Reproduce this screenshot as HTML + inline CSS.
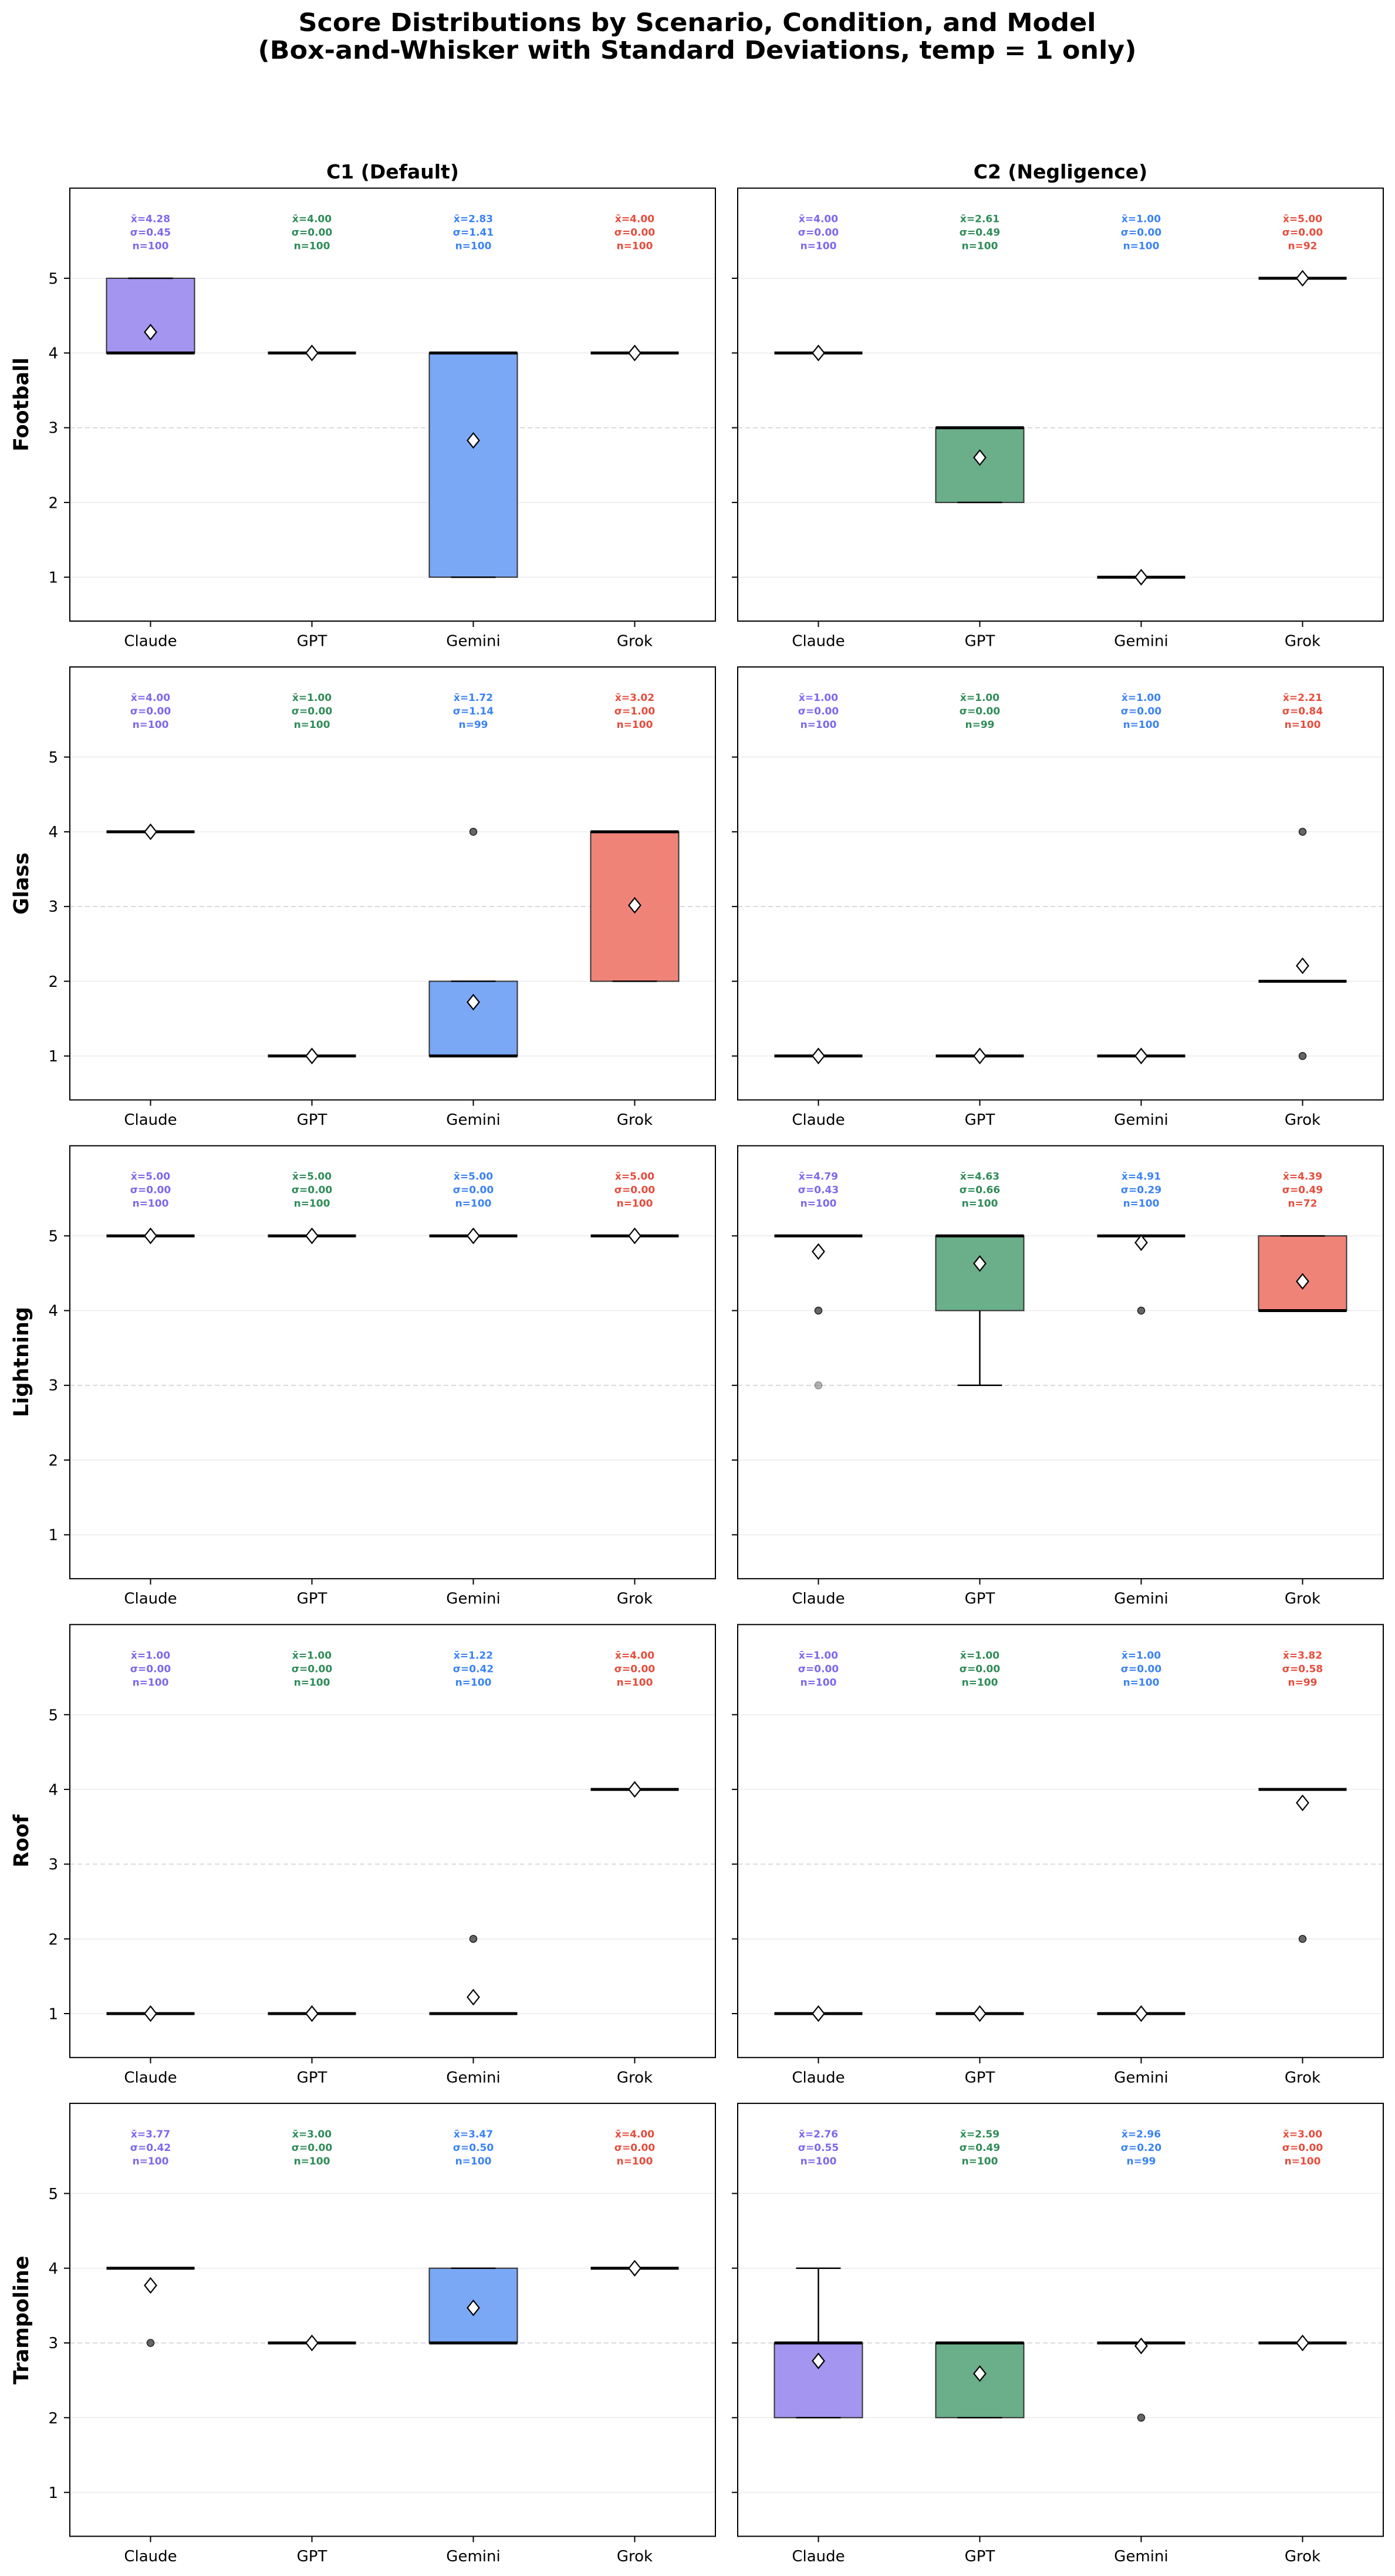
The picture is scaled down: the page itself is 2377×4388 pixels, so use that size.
<!DOCTYPE html>
<html><head><meta charset="utf-8"><style>
html,body{margin:0;padding:0;background:#fff}
svg{display:block}
text{font-family:"DejaVu Sans","Liberation Sans",sans-serif}
.st{font-size:17px;font-weight:bold;text-anchor:middle}
.c0{fill:#7b68ee}.c1{fill:#2e8b57}.c2{fill:#3b82f6}.c3{fill:#e74c3c}
.tl{font-size:26px;fill:#000}
.g{stroke:#ebebeb;stroke-width:1.5}
.gd{stroke:#cfcfcf;stroke-width:1.5;stroke-dasharray:8,5}
.med{stroke:#000;stroke-width:5}
.wh{stroke:#000;stroke-width:2.5}
.bx{stroke:#333;stroke-width:2}
.fl{fill:#666;stroke:#222;stroke-width:1.5}
</style></head><body>
<svg width="2377" height="4388" viewBox="0 0 2377 4388" xmlns="http://www.w3.org/2000/svg">
<defs>
<g id="dm"><path d="M0,-12.5 L10,0 L0,12.5 L-10,0 Z" fill="#fff" stroke="#000" stroke-width="2.2"/></g>
<g id="ax">
<line class="g" x1="0" x2="1100" y1="153.5" y2="153.5"/>
<line class="g" x1="0" x2="1100" y1="280.8" y2="280.8"/>
<line class="gd" x1="0" x2="1100" y1="408.1" y2="408.1"/>
<line class="g" x1="0" x2="1100" y1="535.4" y2="535.4"/>
<line class="g" x1="0" x2="1100" y1="662.7" y2="662.7"/>
<g stroke="#000" stroke-width="2">
<line x1="-10" x2="0" y1="153.5" y2="153.5"/><line x1="-10" x2="0" y1="280.8" y2="280.8"/><line x1="-10" x2="0" y1="408.1" y2="408.1"/><line x1="-10" x2="0" y1="535.4" y2="535.4"/><line x1="-10" x2="0" y1="662.7" y2="662.7"/>
<line x1="137.5" x2="137.5" y1="737.5" y2="747.5"/><line x1="412.5" x2="412.5" y1="737.5" y2="747.5"/><line x1="687.5" x2="687.5" y1="737.5" y2="747.5"/><line x1="962.5" x2="962.5" y1="737.5" y2="747.5"/>
</g>
<g class="tl" text-anchor="middle"><text x="137.5" y="780">Claude</text><text x="412.5" y="780">GPT</text><text x="687.5" y="780">Gemini</text><text x="962.5" y="780">Grok</text></g>
</g>
<g id="yl" class="tl" text-anchor="end"><text x="-20" y="163">5</text><text x="-20" y="290">4</text><text x="-20" y="417">3</text><text x="-20" y="545">2</text><text x="-20" y="672">1</text></g>
</defs>

<g font-weight="bold" text-anchor="middle" font-size="43">
<text x="1188" y="53" textLength="1359" lengthAdjust="spacingAndGlyphs">Score Distributions by Scenario, Condition, and Model</text>
<text x="1188" y="100" textLength="1497" lengthAdjust="spacingAndGlyphs">(Box-and-Whisker with Standard Deviations, temp = 1 only)</text>
</g>
<g font-weight="bold" text-anchor="middle" font-size="33">
<text x="669" y="304">C1 (Default)</text><text x="1807" y="304">C2 (Negligence)</text>
</g>
<g font-weight="bold" text-anchor="middle" font-size="35">
<text transform="translate(48,689) rotate(-90)">Football</text>
<text transform="translate(48,1505) rotate(-90)">Glass</text>
<text transform="translate(48,2320) rotate(-90)">Lightning</text>
<text transform="translate(48,3136) rotate(-90)">Roof</text>
<text transform="translate(48,3952) rotate(-90)">Trampoline</text>
</g>

<!-- Football C1 -->
<g transform="translate(119,320.5)"><use href="#ax"/><use href="#yl"/>
<rect class="bx" x="62.5" y="153.5" width="150" height="127.3" fill="#a395f0"/>
<line class="wh" x1="99.5" x2="175.5" y1="153.5" y2="153.5"/>
<line class="med" x1="62.5" x2="212.5" y1="280.8" y2="280.8"/><use href="#dm" x="137.5" y="245.2"/>
<line class="med" x1="337.5" x2="487.5" y1="280.8" y2="280.8"/><use href="#dm" x="412.5" y="280.8"/>
<rect class="bx" x="612.5" y="280.8" width="150" height="381.9" fill="#7aa8f5"/>
<line class="wh" x1="649.5" x2="725.5" y1="662.7" y2="662.7"/>
<line class="med" x1="612.5" x2="762.5" y1="280.8" y2="280.8"/><use href="#dm" x="687.5" y="429.7"/>
<line class="med" x1="887.5" x2="1037.5" y1="280.8" y2="280.8"/><use href="#dm" x="962.5" y="280.8"/>
<g class="st"><text class="c0" x="137.5"><tspan x="137.5" y="58">x̄=4.28</tspan><tspan x="137.5" y="81">σ=0.45</tspan><tspan x="137.5" y="104">n=100</tspan></text>
<text class="c1"><tspan x="412.5" y="58">x̄=4.00</tspan><tspan x="412.5" y="81">σ=0.00</tspan><tspan x="412.5" y="104">n=100</tspan></text>
<text class="c2"><tspan x="687.5" y="58">x̄=2.83</tspan><tspan x="687.5" y="81">σ=1.41</tspan><tspan x="687.5" y="104">n=100</tspan></text>
<text class="c3"><tspan x="962.5" y="58">x̄=4.00</tspan><tspan x="962.5" y="81">σ=0.00</tspan><tspan x="962.5" y="104">n=100</tspan></text></g>
<rect x="0" y="0" width="1100" height="737.5" fill="none" stroke="#000" stroke-width="2"/></g>

<!-- Football C2 -->
<g transform="translate(1257,320.5)"><use href="#ax"/>
<line class="med" x1="62.5" x2="212.5" y1="280.8" y2="280.8"/><use href="#dm" x="137.5" y="280.8"/>
<rect class="bx" x="337.5" y="408.1" width="150" height="127.3" fill="#6aae8a"/>
<line class="wh" x1="374.5" x2="450.5" y1="535.4" y2="535.4"/>
<line class="med" x1="337.5" x2="487.5" y1="408.1" y2="408.1"/><use href="#dm" x="412.5" y="458.9"/>
<line class="med" x1="612.5" x2="762.5" y1="662.7" y2="662.7"/><use href="#dm" x="687.5" y="662.7"/>
<line class="med" x1="887.5" x2="1037.5" y1="153.5" y2="153.5"/><use href="#dm" x="962.5" y="153.5"/>
<g class="st"><text class="c0"><tspan x="137.5" y="58">x̄=4.00</tspan><tspan x="137.5" y="81">σ=0.00</tspan><tspan x="137.5" y="104">n=100</tspan></text>
<text class="c1"><tspan x="412.5" y="58">x̄=2.61</tspan><tspan x="412.5" y="81">σ=0.49</tspan><tspan x="412.5" y="104">n=100</tspan></text>
<text class="c2"><tspan x="687.5" y="58">x̄=1.00</tspan><tspan x="687.5" y="81">σ=0.00</tspan><tspan x="687.5" y="104">n=100</tspan></text>
<text class="c3"><tspan x="962.5" y="58">x̄=5.00</tspan><tspan x="962.5" y="81">σ=0.00</tspan><tspan x="962.5" y="104">n=92</tspan></text></g>
<rect x="0" y="0" width="1100" height="737.5" fill="none" stroke="#000" stroke-width="2"/></g>

<!-- Glass C1 -->
<g transform="translate(119,1136.1)"><use href="#ax"/><use href="#yl"/>
<line class="med" x1="62.5" x2="212.5" y1="280.8" y2="280.8"/><use href="#dm" x="137.5" y="280.8"/>
<line class="med" x1="337.5" x2="487.5" y1="662.7" y2="662.7"/><use href="#dm" x="412.5" y="662.7"/>
<rect class="bx" x="612.5" y="535.4" width="150" height="127.3" fill="#7aa8f5"/>
<line class="wh" x1="649.5" x2="725.5" y1="535.4" y2="535.4"/>
<line class="med" x1="612.5" x2="762.5" y1="662.7" y2="662.7"/><use href="#dm" x="687.5" y="571"/>
<circle class="fl" cx="687.5" cy="280.8" r="6"/>
<rect class="bx" x="887.5" y="280.8" width="150" height="254.6" fill="#f08378"/>
<line class="wh" x1="924.5" x2="1000.5" y1="535.4" y2="535.4"/>
<line class="med" x1="887.5" x2="1037.5" y1="280.8" y2="280.8"/><use href="#dm" x="962.5" y="406"/>
<g class="st"><text class="c0"><tspan x="137.5" y="58">x̄=4.00</tspan><tspan x="137.5" y="81">σ=0.00</tspan><tspan x="137.5" y="104">n=100</tspan></text>
<text class="c1"><tspan x="412.5" y="58">x̄=1.00</tspan><tspan x="412.5" y="81">σ=0.00</tspan><tspan x="412.5" y="104">n=100</tspan></text>
<text class="c2"><tspan x="687.5" y="58">x̄=1.72</tspan><tspan x="687.5" y="81">σ=1.14</tspan><tspan x="687.5" y="104">n=99</tspan></text>
<text class="c3"><tspan x="962.5" y="58">x̄=3.02</tspan><tspan x="962.5" y="81">σ=1.00</tspan><tspan x="962.5" y="104">n=100</tspan></text></g>
<rect x="0" y="0" width="1100" height="737.5" fill="none" stroke="#000" stroke-width="2"/></g>

<!-- Glass C2 -->
<g transform="translate(1257,1136.1)"><use href="#ax"/>
<line class="med" x1="62.5" x2="212.5" y1="662.7" y2="662.7"/><use href="#dm" x="137.5" y="662.7"/>
<line class="med" x1="337.5" x2="487.5" y1="662.7" y2="662.7"/><use href="#dm" x="412.5" y="662.7"/>
<line class="med" x1="612.5" x2="762.5" y1="662.7" y2="662.7"/><use href="#dm" x="687.5" y="662.7"/>
<line class="med" x1="887.5" x2="1037.5" y1="535.4" y2="535.4"/><use href="#dm" x="962.5" y="509"/>
<circle class="fl" cx="962.5" cy="280.8" r="6"/><circle class="fl" cx="962.5" cy="662.7" r="6"/>
<g class="st"><text class="c0"><tspan x="137.5" y="58">x̄=1.00</tspan><tspan x="137.5" y="81">σ=0.00</tspan><tspan x="137.5" y="104">n=100</tspan></text>
<text class="c1"><tspan x="412.5" y="58">x̄=1.00</tspan><tspan x="412.5" y="81">σ=0.00</tspan><tspan x="412.5" y="104">n=99</tspan></text>
<text class="c2"><tspan x="687.5" y="58">x̄=1.00</tspan><tspan x="687.5" y="81">σ=0.00</tspan><tspan x="687.5" y="104">n=100</tspan></text>
<text class="c3"><tspan x="962.5" y="58">x̄=2.21</tspan><tspan x="962.5" y="81">σ=0.84</tspan><tspan x="962.5" y="104">n=100</tspan></text></g>
<rect x="0" y="0" width="1100" height="737.5" fill="none" stroke="#000" stroke-width="2"/></g>

<!-- Lightning C1 -->
<g transform="translate(119,1951.7)"><use href="#ax"/><use href="#yl"/>
<line class="med" x1="62.5" x2="212.5" y1="153.5" y2="153.5"/><use href="#dm" x="137.5" y="153.5"/>
<line class="med" x1="337.5" x2="487.5" y1="153.5" y2="153.5"/><use href="#dm" x="412.5" y="153.5"/>
<line class="med" x1="612.5" x2="762.5" y1="153.5" y2="153.5"/><use href="#dm" x="687.5" y="153.5"/>
<line class="med" x1="887.5" x2="1037.5" y1="153.5" y2="153.5"/><use href="#dm" x="962.5" y="153.5"/>
<g class="st"><text class="c0"><tspan x="137.5" y="58">x̄=5.00</tspan><tspan x="137.5" y="81">σ=0.00</tspan><tspan x="137.5" y="104">n=100</tspan></text>
<text class="c1"><tspan x="412.5" y="58">x̄=5.00</tspan><tspan x="412.5" y="81">σ=0.00</tspan><tspan x="412.5" y="104">n=100</tspan></text>
<text class="c2"><tspan x="687.5" y="58">x̄=5.00</tspan><tspan x="687.5" y="81">σ=0.00</tspan><tspan x="687.5" y="104">n=100</tspan></text>
<text class="c3"><tspan x="962.5" y="58">x̄=5.00</tspan><tspan x="962.5" y="81">σ=0.00</tspan><tspan x="962.5" y="104">n=100</tspan></text></g>
<rect x="0" y="0" width="1100" height="737.5" fill="none" stroke="#000" stroke-width="2"/></g>

<!-- Lightning C2 -->
<g transform="translate(1257,1951.7)"><use href="#ax"/>
<line class="med" x1="62.5" x2="212.5" y1="153.5" y2="153.5"/><use href="#dm" x="137.5" y="180.2"/>
<circle class="fl" cx="137.5" cy="280.8" r="6"/><circle class="fl" cx="137.5" cy="408.1" r="6" opacity="0.5"/>
<rect class="bx" x="337.5" y="153.5" width="150" height="127.3" fill="#6aae8a"/>
<line class="wh" x1="412.5" x2="412.5" y1="280.8" y2="408.1"/>
<line class="wh" x1="374.5" x2="450.5" y1="408.1" y2="408.1"/>
<line class="med" x1="337.5" x2="487.5" y1="153.5" y2="153.5"/><use href="#dm" x="412.5" y="200.6"/>
<line class="med" x1="612.5" x2="762.5" y1="153.5" y2="153.5"/><use href="#dm" x="687.5" y="165"/>
<circle class="fl" cx="687.5" cy="280.8" r="6"/>
<rect class="bx" x="887.5" y="153.5" width="150" height="127.3" fill="#f08378"/>
<line class="wh" x1="924.5" x2="1000.5" y1="153.5" y2="153.5"/>
<line class="med" x1="887.5" x2="1037.5" y1="280.8" y2="280.8"/><use href="#dm" x="962.5" y="231"/>
<g class="st"><text class="c0"><tspan x="137.5" y="58">x̄=4.79</tspan><tspan x="137.5" y="81">σ=0.43</tspan><tspan x="137.5" y="104">n=100</tspan></text>
<text class="c1"><tspan x="412.5" y="58">x̄=4.63</tspan><tspan x="412.5" y="81">σ=0.66</tspan><tspan x="412.5" y="104">n=100</tspan></text>
<text class="c2"><tspan x="687.5" y="58">x̄=4.91</tspan><tspan x="687.5" y="81">σ=0.29</tspan><tspan x="687.5" y="104">n=100</tspan></text>
<text class="c3"><tspan x="962.5" y="58">x̄=4.39</tspan><tspan x="962.5" y="81">σ=0.49</tspan><tspan x="962.5" y="104">n=72</tspan></text></g>
<rect x="0" y="0" width="1100" height="737.5" fill="none" stroke="#000" stroke-width="2"/></g>

<!-- Roof C1 -->
<g transform="translate(119,2767.3)"><use href="#ax"/><use href="#yl"/>
<line class="med" x1="62.5" x2="212.5" y1="662.7" y2="662.7"/><use href="#dm" x="137.5" y="662.7"/>
<line class="med" x1="337.5" x2="487.5" y1="662.7" y2="662.7"/><use href="#dm" x="412.5" y="662.7"/>
<line class="med" x1="612.5" x2="762.5" y1="662.7" y2="662.7"/><use href="#dm" x="687.5" y="634.7"/>
<circle class="fl" cx="687.5" cy="535.4" r="6"/>
<line class="med" x1="887.5" x2="1037.5" y1="280.8" y2="280.8"/><use href="#dm" x="962.5" y="280.8"/>
<g class="st"><text class="c0"><tspan x="137.5" y="58">x̄=1.00</tspan><tspan x="137.5" y="81">σ=0.00</tspan><tspan x="137.5" y="104">n=100</tspan></text>
<text class="c1"><tspan x="412.5" y="58">x̄=1.00</tspan><tspan x="412.5" y="81">σ=0.00</tspan><tspan x="412.5" y="104">n=100</tspan></text>
<text class="c2"><tspan x="687.5" y="58">x̄=1.22</tspan><tspan x="687.5" y="81">σ=0.42</tspan><tspan x="687.5" y="104">n=100</tspan></text>
<text class="c3"><tspan x="962.5" y="58">x̄=4.00</tspan><tspan x="962.5" y="81">σ=0.00</tspan><tspan x="962.5" y="104">n=100</tspan></text></g>
<rect x="0" y="0" width="1100" height="737.5" fill="none" stroke="#000" stroke-width="2"/></g>

<!-- Roof C2 -->
<g transform="translate(1257,2767.3)"><use href="#ax"/>
<line class="med" x1="62.5" x2="212.5" y1="662.7" y2="662.7"/><use href="#dm" x="137.5" y="662.7"/>
<line class="med" x1="337.5" x2="487.5" y1="662.7" y2="662.7"/><use href="#dm" x="412.5" y="662.7"/>
<line class="med" x1="612.5" x2="762.5" y1="662.7" y2="662.7"/><use href="#dm" x="687.5" y="662.7"/>
<line class="med" x1="887.5" x2="1037.5" y1="280.8" y2="280.8"/><use href="#dm" x="962.5" y="303.7"/>
<circle class="fl" cx="962.5" cy="535.4" r="6"/>
<g class="st"><text class="c0"><tspan x="137.5" y="58">x̄=1.00</tspan><tspan x="137.5" y="81">σ=0.00</tspan><tspan x="137.5" y="104">n=100</tspan></text>
<text class="c1"><tspan x="412.5" y="58">x̄=1.00</tspan><tspan x="412.5" y="81">σ=0.00</tspan><tspan x="412.5" y="104">n=100</tspan></text>
<text class="c2"><tspan x="687.5" y="58">x̄=1.00</tspan><tspan x="687.5" y="81">σ=0.00</tspan><tspan x="687.5" y="104">n=100</tspan></text>
<text class="c3"><tspan x="962.5" y="58">x̄=3.82</tspan><tspan x="962.5" y="81">σ=0.58</tspan><tspan x="962.5" y="104">n=99</tspan></text></g>
<rect x="0" y="0" width="1100" height="737.5" fill="none" stroke="#000" stroke-width="2"/></g>

<!-- Trampoline C1 -->
<g transform="translate(119,3582.9)"><use href="#ax"/><use href="#yl"/>
<line class="med" x1="62.5" x2="212.5" y1="280.8" y2="280.8"/><use href="#dm" x="137.5" y="310.1"/>
<circle class="fl" cx="137.5" cy="408.1" r="6"/>
<line class="med" x1="337.5" x2="487.5" y1="408.1" y2="408.1"/><use href="#dm" x="412.5" y="408.1"/>
<rect class="bx" x="612.5" y="280.8" width="150" height="127.3" fill="#7aa8f5"/>
<line class="wh" x1="649.5" x2="725.5" y1="280.8" y2="280.8"/>
<line class="med" x1="612.5" x2="762.5" y1="408.1" y2="408.1"/><use href="#dm" x="687.5" y="348.3"/>
<line class="med" x1="887.5" x2="1037.5" y1="280.8" y2="280.8"/><use href="#dm" x="962.5" y="280.8"/>
<g class="st"><text class="c0"><tspan x="137.5" y="58">x̄=3.77</tspan><tspan x="137.5" y="81">σ=0.42</tspan><tspan x="137.5" y="104">n=100</tspan></text>
<text class="c1"><tspan x="412.5" y="58">x̄=3.00</tspan><tspan x="412.5" y="81">σ=0.00</tspan><tspan x="412.5" y="104">n=100</tspan></text>
<text class="c2"><tspan x="687.5" y="58">x̄=3.47</tspan><tspan x="687.5" y="81">σ=0.50</tspan><tspan x="687.5" y="104">n=100</tspan></text>
<text class="c3"><tspan x="962.5" y="58">x̄=4.00</tspan><tspan x="962.5" y="81">σ=0.00</tspan><tspan x="962.5" y="104">n=100</tspan></text></g>
<rect x="0" y="0" width="1100" height="737.5" fill="none" stroke="#000" stroke-width="2"/></g>

<!-- Trampoline C2 -->
<g transform="translate(1257,3582.9)"><use href="#ax"/>
<rect class="bx" x="62.5" y="408.1" width="150" height="127.3" fill="#a395f0"/>
<line class="wh" x1="137.5" x2="137.5" y1="280.8" y2="408.1"/>
<line class="wh" x1="99.5" x2="175.5" y1="280.8" y2="280.8"/>
<line class="wh" x1="99.5" x2="175.5" y1="535.4" y2="535.4"/>
<line class="med" x1="62.5" x2="212.5" y1="408.1" y2="408.1"/><use href="#dm" x="137.5" y="438.7"/>
<rect class="bx" x="337.5" y="408.1" width="150" height="127.3" fill="#6aae8a"/>
<line class="wh" x1="374.5" x2="450.5" y1="535.4" y2="535.4"/>
<line class="med" x1="337.5" x2="487.5" y1="408.1" y2="408.1"/><use href="#dm" x="412.5" y="460.3"/>
<line class="med" x1="612.5" x2="762.5" y1="408.1" y2="408.1"/><use href="#dm" x="687.5" y="413.2"/>
<circle class="fl" cx="687.5" cy="535.4" r="6"/>
<line class="med" x1="887.5" x2="1037.5" y1="408.1" y2="408.1"/><use href="#dm" x="962.5" y="408.1"/>
<g class="st"><text class="c0"><tspan x="137.5" y="58">x̄=2.76</tspan><tspan x="137.5" y="81">σ=0.55</tspan><tspan x="137.5" y="104">n=100</tspan></text>
<text class="c1"><tspan x="412.5" y="58">x̄=2.59</tspan><tspan x="412.5" y="81">σ=0.49</tspan><tspan x="412.5" y="104">n=100</tspan></text>
<text class="c2"><tspan x="687.5" y="58">x̄=2.96</tspan><tspan x="687.5" y="81">σ=0.20</tspan><tspan x="687.5" y="104">n=99</tspan></text>
<text class="c3"><tspan x="962.5" y="58">x̄=3.00</tspan><tspan x="962.5" y="81">σ=0.00</tspan><tspan x="962.5" y="104">n=100</tspan></text></g>
<rect x="0" y="0" width="1100" height="737.5" fill="none" stroke="#000" stroke-width="2"/></g>
</svg>
</body></html>
